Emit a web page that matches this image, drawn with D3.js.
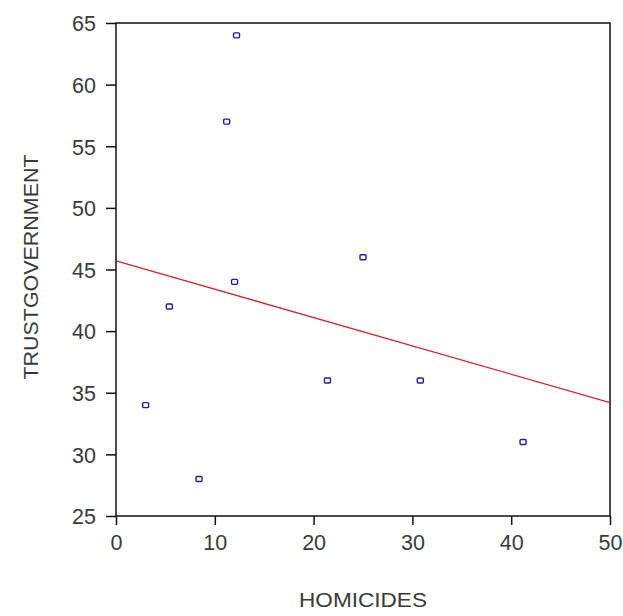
<!DOCTYPE html>
<html>
<head>
<meta charset="utf-8">
<script src="https://cdn.jsdelivr.net/npm/d3@7/dist/d3.min.js"></script>
<style>
html,body{margin:0;padding:0;background:#fff;}
svg{display:block;}
</style>
</head>
<body>
<svg id="chart" width="623" height="616"></svg>
<script>
const homicides = [12.2, 11.2, 25.0, 12.0, 5.4, 3.0, 8.4, 21.4, 30.8, 41.2];
const trust     = [64,   57,   46,   44,   42,  34,  28,  36,   36,   31];
const fitX = [0, 50];
const fitY = [45.7, 34.2];
const xTicks = [0, 10, 20, 30, 40, 50];
const yTicks = [25, 30, 35, 40, 45, 50, 55, 60, 65];
const xTitle = "HOMICIDES";
const yTitle = "TRUSTGOVERNMENT";

const svg = d3.select("#chart");
const L = 116, R = 610, T = 23, B = 516;
const x = d3.scaleLinear().domain([0, 50]).range([L, R]);
const y = d3.scaleLinear().domain([25, 65]).range([B, T]);
const font = "'Liberation Sans', Arial, sans-serif";
const textColor = "#3a3a3a";

// frame
svg.append("rect").attr("x", L).attr("y", T).attr("width", R - L).attr("height", B - T)
  .attr("fill", "none").attr("stroke", "#111").attr("stroke-width", 1.5);

// axes
const xAxis = d3.axisBottom(x).tickValues(xTicks).tickSize(9).tickPadding(10).tickFormat(d3.format("d"));
const gx = svg.append("g").attr("transform", `translate(0,${B})`).call(xAxis);
const yAxis = d3.axisLeft(y).tickValues(yTicks).tickSize(10).tickPadding(10).tickFormat(d3.format("d"));
const gy = svg.append("g").attr("transform", `translate(${L},0)`).call(yAxis);
[gx, gy].forEach(g => {
  g.select(".domain").remove();
  g.selectAll(".tick line").attr("stroke", "#111").attr("stroke-width", 1.5);
  g.selectAll(".tick text").attr("font-family", font).attr("font-size", 21.5).attr("fill", textColor);
});
gy.selectAll(".tick text").attr("dy", "0.36em");

// fit line
svg.append("line")
  .attr("x1", x(fitX[0])).attr("y1", y(fitY[0]))
  .attr("x2", x(fitX[1])).attr("y2", y(fitY[1]))
  .attr("stroke", "#cc2a2a").attr("stroke-width", 1.3);

// points
svg.append("g").selectAll("rect").data(homicides.map((h, i) => [h, trust[i]])).join("rect")
  .attr("x", d => x(d[0]) - 3).attr("y", d => y(d[1]) - 2.5)
  .attr("width", 6).attr("height", 5).attr("rx", 1)
  .attr("fill", "#fff").attr("stroke", "#1c1ca8").attr("stroke-width", 1.4);

// titles
svg.append("text").attr("x", 363).attr("y", 607).attr("text-anchor", "middle")
  .attr("font-family", font).attr("font-size", 21).attr("fill", textColor)
  .attr("textLength", 128).attr("lengthAdjust", "spacingAndGlyphs").text(xTitle);
svg.append("text").attr("transform", "translate(38,267) rotate(-90)").attr("text-anchor", "middle")
  .attr("font-family", font).attr("font-size", 21).attr("fill", textColor)
  .attr("textLength", 225).attr("lengthAdjust", "spacingAndGlyphs").text(yTitle);
</script>
</body>
</html>
